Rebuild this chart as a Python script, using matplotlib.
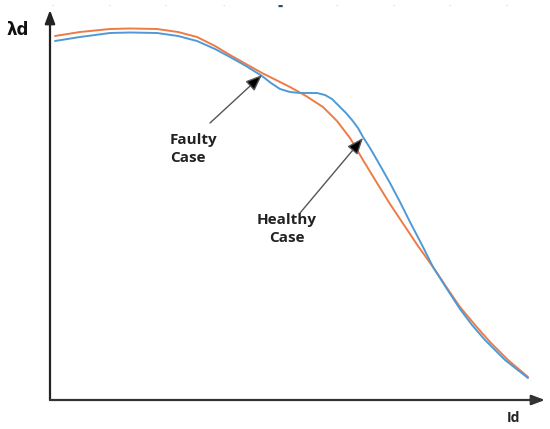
import matplotlib
matplotlib.use("Agg")
import matplotlib.pyplot as plt

# curve values (Id on x, lambda_d on y, arbitrary units)
healthy_x = [5, 30, 60, 80, 107, 128, 147, 165, 180, 196, 212, 226, 240, 256, 273, 287, 300,
             313, 327, 340, 354, 368, 383, 397, 410, 425, 440, 458, 478]
healthy_y = [364, 368, 371, 371.5, 371, 368, 363, 354, 345, 336, 327, 320, 313, 304, 293, 279,
             262, 240, 217, 196, 175, 154, 133, 112, 93, 75, 58, 40, 23]

faulty_x = [5, 30, 60, 80, 107, 128, 147, 165, 180, 196, 212, 221, 230, 240, 250, 267, 275, 282,
            290, 296, 302, 308, 313, 320, 327, 340, 350, 360, 372, 383, 397, 410, 422, 435, 455, 478]
faulty_y = [359, 363, 367, 367.5, 367, 364, 359, 351, 343, 334, 324, 317, 311, 308, 307, 307, 305,
            301, 293, 287, 280, 272, 263, 252, 240, 217, 198, 178, 155, 133, 111, 91, 75, 60, 40, 22]

# top row of faint tick dots in the picture (figure pixels)
top_marks_x = [52, 109, 165, 223, 336, 393, 449, 506]

orange = "#EE7B45"
blue = "#4F9AD6"
font = "Open Sans"

fig = plt.figure(figsize=(5.5, 4.29), dpi=100)
ax = fig.add_axes([50 / 550, 29 / 429, 495 / 550, 390 / 429])
ax.set_xlim(0, 495)
ax.set_ylim(0, 390)
ax.axis("off")

ax.plot(healthy_x, healthy_y, color=orange, lw=1.4, solid_capstyle="round",
        solid_joinstyle="round", zorder=3)
ax.plot(faulty_x, faulty_y, color=blue, lw=1.4, solid_capstyle="round",
        solid_joinstyle="round", zorder=3)

# axes drawn as arrows
ax.annotate("", xy=(0, 1), xytext=(0, 0), xycoords="axes fraction",
            arrowprops=dict(arrowstyle="-|>,head_length=0.8,head_width=0.3",
                            color="#222222", lw=1.6, shrinkA=0, shrinkB=0))
ax.annotate("", xy=(1, 0), xytext=(0, 0), xycoords="axes fraction",
            arrowprops=dict(arrowstyle="-|>,head_length=0.8,head_width=0.3",
                            color="#333333", lw=1.6, shrinkA=0, shrinkB=0))

ax.text(-32, 370, "λd", fontsize=12, fontweight="bold", family="DejaVu Sans",
        ha="center", va="center", color="#111111")
ax.text(463, -18, "Id", fontsize=10, fontweight="bold", family=font,
        ha="center", va="center", color="#222222")

# callouts
arrow_kw = dict(arrowstyle="-|>,head_length=1.0,head_width=0.4", ec="#555555", fc="#000000",
                lw=1.0, shrinkA=0, shrinkB=0)
ax.annotate("", xy=(212, 325), xytext=(160, 277), arrowprops=arrow_kw)
ax.annotate("", xy=(313, 262), xytext=(250, 187), arrowprops=arrow_kw)

ax.text(120, 267, "Faulty\nCase", fontsize=11, fontweight="bold", family=font,
        ha="left", va="top", linespacing=1.35, color="#222222")
ax.text(237, 187, "Healthy\nCase", fontsize=11, fontweight="bold", family=font,
        ha="center", va="top", linespacing=1.35, multialignment="center", color="#222222")

for mx in top_marks_x:
    fig.text(mx / 550, 1 - 6 / 429, "·", fontsize=5, color="#aaaaaa", ha="center", va="center")
fig.text(280 / 550, 1 - 6 / 429, "▬", fontsize=4, color="#1F4E79", ha="center", va="center")

fig.savefig("out.png", dpi=100)
